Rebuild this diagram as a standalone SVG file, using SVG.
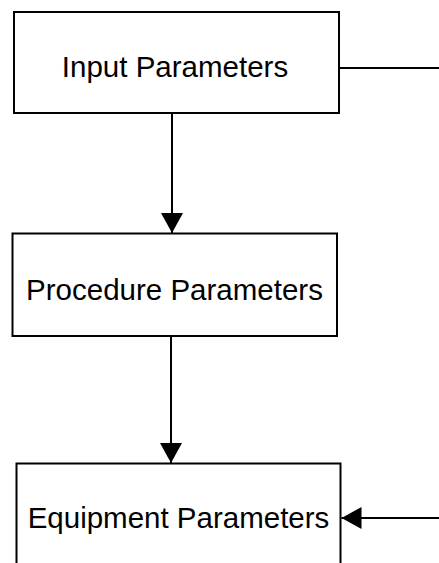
<svg xmlns="http://www.w3.org/2000/svg" width="439" height="563" viewBox="0 0 439 563">
<style>
.box{fill:#fff;stroke:#000;stroke-width:2}
.lbl{font-family:"Liberation Sans",Arial,sans-serif;font-size:29.5px;fill:#000;text-anchor:middle}
.edge{fill:none;stroke:#000;stroke-width:2}
</style>
<defs>
<marker id="ah" markerWidth="20" markerHeight="22" viewBox="0 0 20 22" refX="20" refY="11" orient="auto" markerUnits="userSpaceOnUse">
<path d="M0,0 L20,11 L0,22 Z" fill="#000"/>
</marker>
</defs>
<rect width="439" height="563" fill="#fff"/>
<g id="connectors">
<path class="edge" d="M172,113 V233" marker-end="url(#ah)"/>
<path class="edge" d="M171,336 V463" marker-end="url(#ah)"/>
<path class="edge" d="M339,68 H439"/>
<path class="edge" d="M439,518 H341.5" marker-end="url(#ah)"/>
</g>
<g id="input">
<rect class="box" x="14" y="12" width="325" height="101"/>
<text class="lbl" x="175" y="77">Input Parameters</text>
</g>
<g id="procedure">
<rect class="box" x="12.5" y="233.5" width="324.5" height="102.5"/>
<text class="lbl" x="174.5" y="300">Procedure Parameters</text>
</g>
<g id="equipment">
<rect class="box" x="16.5" y="463.5" width="324" height="120"/>
<text class="lbl" x="178.5" y="528">Equipment Parameters</text>
</g>
</svg>
